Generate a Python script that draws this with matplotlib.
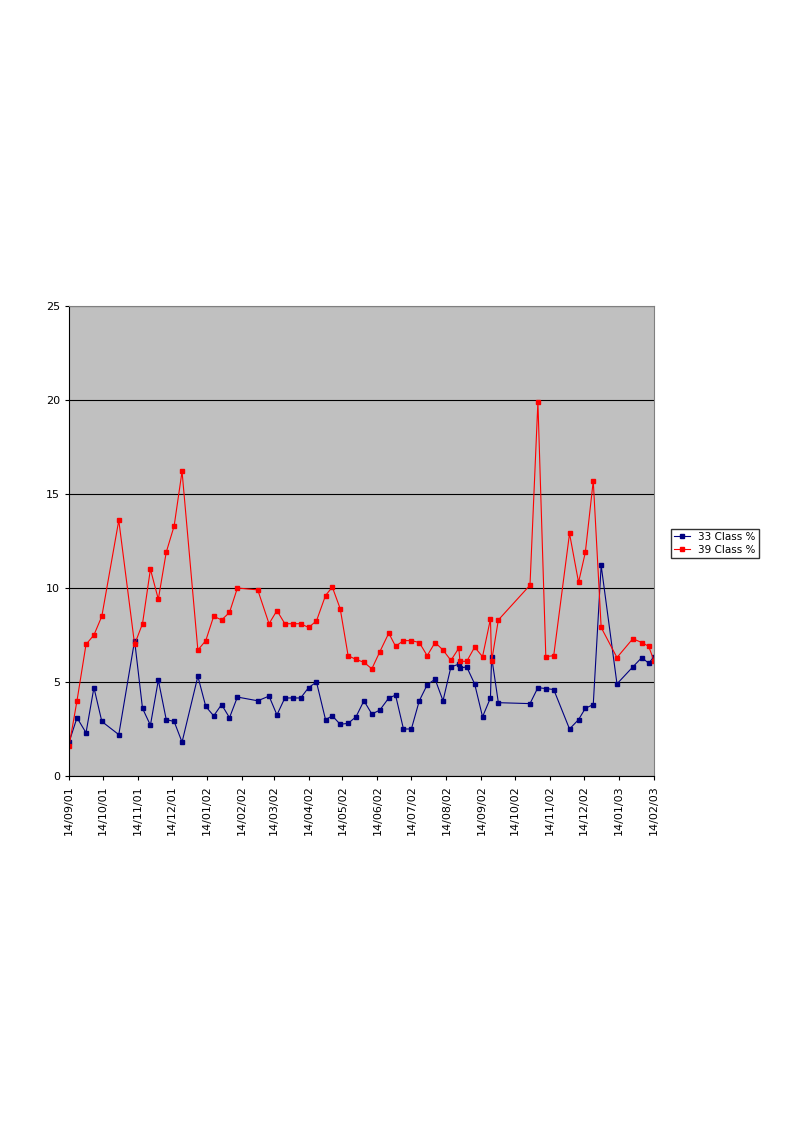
import matplotlib
matplotlib.use("Agg")
import matplotlib.pyplot as plt
import matplotlib.dates as mdates
import pandas as pd

start = "2001-09-14"
day_offsets = [0,7,15,22,29,44,58,65,72,79,86,93,100,114,121,128,135,142,149,167,
               177,184,191,198,205,212,219,227,233,240,247,254,261,268,275,283,289,296,303,310,
               317,324,331,338,345,346,352,359,366,373,374,380,408,415,422,429,443,451,457,464,
               471,485,499,507,513,518]
class33 = [1.8,3.1,2.3,4.7,2.9,2.2,7.2,3.6,2.7,5.1,3.0,2.9,1.8,5.3,3.7,3.2,3.8,3.1,4.2,4.0,
           4.25,3.25,4.15,4.15,4.15,4.7,5.0,3.0,3.2,2.75,2.8,3.15,4.0,3.3,3.5,4.15,4.3,2.5,2.5,4.0,
           4.85,5.15,4.0,5.8,5.95,5.75,5.8,4.9,3.15,4.15,6.35,3.9,3.85,4.7,4.65,4.6,2.5,3.0,3.6,3.8,
           11.2,4.9,5.8,6.3,6.0,6.35]
class39 = [1.6,4.0,7.0,7.5,8.5,13.6,7.0,8.1,11.0,9.4,11.9,13.3,16.2,6.7,7.2,8.5,8.3,8.7,10.0,9.9,
           8.1,8.8,8.1,8.1,8.1,7.9,8.25,9.6,10.05,8.9,6.4,6.2,6.05,5.7,6.6,7.6,6.9,7.2,7.2,7.1,
           6.4,7.1,6.7,6.15,6.8,6.1,6.1,6.85,6.35,8.35,6.1,8.3,10.15,19.9,6.35,6.4,12.9,10.3,11.9,15.7,
           7.9,6.3,7.3,7.1,6.9,6.1]

dates = pd.Timestamp(start) + pd.to_timedelta(day_offsets, unit="D")

fig = plt.figure(figsize=(7.94, 11.23), dpi=100)
ax = fig.add_axes([0.087, 0.309, 0.737, 0.4185])
ax.set_facecolor("#C0C0C0")
ax.plot(dates, class33, color="#000080", marker="s", markersize=3, linewidth=0.8, label="33 Class %")
ax.plot(dates, class39, color="#FF0000", marker="s", markersize=3, linewidth=0.8, label="39 Class %")
ax.set_ylim(0, 25)
ax.set_yticks(range(0, 26, 5))
ax.set_xlim(pd.Timestamp(start), pd.Timestamp("2003-02-14"))
ax.xaxis.set_major_locator(mdates.MonthLocator(bymonthday=14))
ax.xaxis.set_major_formatter(mdates.DateFormatter("%d/%m/%y"))
for lab in ax.get_xticklabels():
    lab.set_rotation(90)
ax.tick_params(labelsize=8, length=3)
ax.grid(axis="y", color="black", linewidth=0.8)
ax.set_axisbelow(True)
for s in ["top", "right"]:
    ax.spines[s].set_color("#808080")
leg = ax.legend(loc="center left", bbox_to_anchor=(1.02, 0.495), fontsize=7.5, frameon=True,
                fancybox=False, edgecolor="black", handlelength=1.5, borderpad=0.3, labelspacing=0.3)
fig.savefig("out.png", dpi=100)
